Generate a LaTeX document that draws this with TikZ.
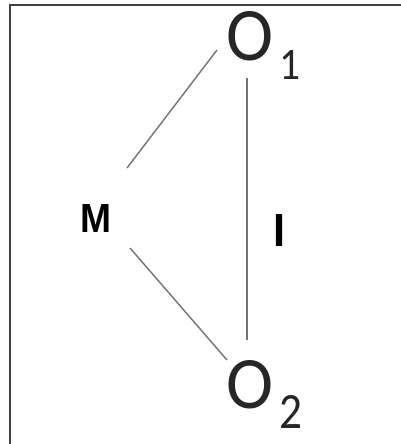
\documentclass[tikz,border=0pt]{standalone}
\usepackage{fontspec}
\usepackage{graphicx}
\setmainfont{Carlito}
\newfontfamily\lblfont{Liberation Sans}
\begin{document}
\begin{tikzpicture}[x=1pt,y=-1pt,
  conn/.style={draw=black!55, line width=1.4pt},
  frame/.style={draw=black!75, line width=2pt},
  txt/.style={inner sep=0pt, anchor=base west, text=black!85},
  lbl/.style={inner sep=0pt, anchor=base west, font=\lblfont\bfseries}]
\useasboundingbox (0,0) rectangle (401,444);
\fill[white] (0,0) rectangle (401,444);
\draw[frame] (9.5,444) -- (9.5,5) -- (401,5);
\node[txt] (o1) at (226,60) {\resizebox{47pt}{49pt}{O}};
\node[txt] (o1s) at (279,79) {\resizebox{21pt}{29pt}{1}};
\node[txt] (o2) at (226,408) {\resizebox{47pt}{48pt}{O}};
\node[txt] (o2s) at (279,428) {\resizebox{23pt}{33pt}{2}};
\node[lbl] (m) at (80,232) {\resizebox{31pt}{28pt}{M}};
\node[lbl] (i) at (273,246) {\resizebox{12pt}{32pt}{I}};
\coordinate (m1) at (127,168);
\coordinate (t1) at (217,50);
\coordinate (m2) at (130,248);
\coordinate (t2) at (227,360);
\coordinate (v1) at (247,78);
\coordinate (v2) at (247,340);
\draw[conn] (m1) -- (t1);
\draw[conn] (m2) -- (t2);
\draw[conn] (v1) -- (v2);
\end{tikzpicture}
\end{document}
